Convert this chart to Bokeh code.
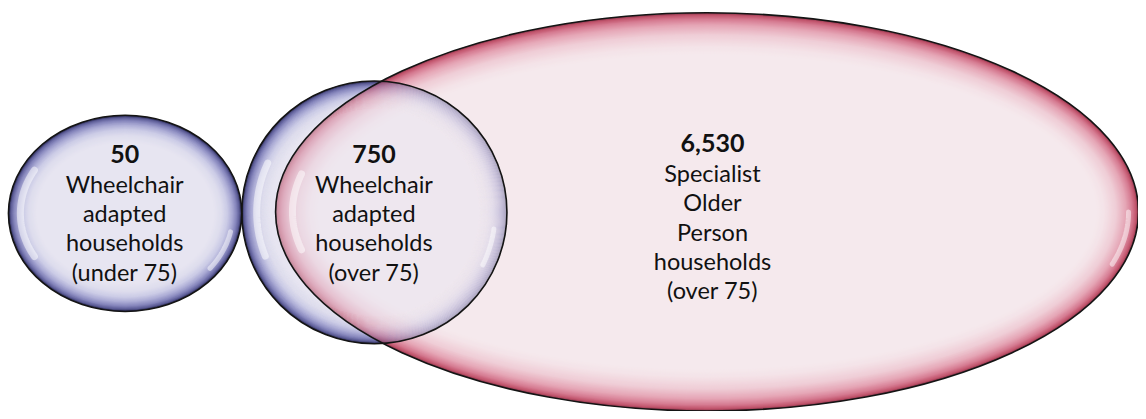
import numpy as np
from bokeh.plotting import figure
from bokeh.models import Range1d, ColumnDataSource
from bokeh.embed import file_html
from bokeh.resources import INLINE
from bokeh.core.properties import value

# ---------------- data ----------------
count_labels = ["50", "750", "6,530"]
descriptions = [
    ["Wheelchair", "adapted", "households", "(under 75)"],
    ["Wheelchair", "adapted", "households", "(over 75)"],
    ["Specialist", "Older", "Person", "households", "(over 75)"],
]

# ---------------- layout (pixel coords, y down) ----------------
shape_cx = [125.5, 376.5, 711.5]
shape_cy = [217.0, 216.0, 215.5]
shape_w = [235.0, 267.0, 869.0]
shape_h = [200.0, 268.0, 406.0]
label_x = [125.0, 376.0, 717.0]
number_y = [156.0, 156.0, 145.0]
first_gap = 31.0
line_gap = 29.8

# bevel colour stops: (distance from edge in px, colour)
blue_stops = [(0, "#2c2c56"), (2, "#5e5e98"), (5, "#8686bc"), (9, "#aaaad4"),
              (14, "#cbcbe6"), (20, "#dedded"), (28, "#e7e5f1")]
red_stops = [(0, "#963a50"), (2, "#c2566e"), (6, "#d67c92"), (12, "#e5a5b5"),
             (22, "#efcdd6"), (34, "#f4e3e8"), (42, "#f5e9ed")]

# gloss highlights: (shape, start deg, end deg, inset px, width)
gloss = [(0, 150, 210, 12, 7), (0, 12, 38, 9, 5),
         (1, 158, 205, 15, 7), (1, 8, 26, 12, 5),
         (2, 0, 16, 10, 5), (2, 168, 192, 17, 7)]


def hex2rgb(h):
    return np.array([int(h[i:i + 2], 16) for i in (1, 3, 5)], float)


def ramp(stops, d):
    ds = [s[0] for s in stops]
    cs = np.array([hex2rgb(s[1]) for s in stops])
    rgb = [int(round(np.interp(d, ds, cs[:, k]))) for k in range(3)]
    return "#%02x%02x%02x" % tuple(rgb)


def ring_source(i, stops):
    depth = stops[-1][0]
    ds = np.arange(0, depth + 1, 1.0)
    return ColumnDataSource(dict(
        x=[shape_cx[i]] * len(ds), y=[shape_cy[i]] * len(ds),
        w=[shape_w[i] - 2 * d for d in ds], h=[shape_h[i] - 2 * d for d in ds],
        c=[ramp(stops, d) for d in ds]))


def ellipse_pts(i, d, n=200):
    t = np.linspace(0, 2 * np.pi, n, endpoint=False)
    a = shape_w[i] / 2 - d
    b = shape_h[i] / 2 - d
    return list(shape_cx[i] + a * np.cos(t)), list(shape_cy[i] + b * np.sin(t))


p = figure(width=1138, height=411, output_backend="svg", toolbar_location=None,
           x_range=Range1d(0, 1146), y_range=Range1d(419, 0),
           min_border=0, outline_line_color=None)
p.axis.visible = False
p.grid.visible = False
p.background_fill_color = "white"
p.border_fill_color = "white"

# opaque bevelled shapes
for i, stops in [(0, blue_stops), (1, blue_stops), (2, red_stops)]:
    src = ring_source(i, stops)
    p.ellipse(x="x", y="y", width="w", height="h", source=src,
              fill_color="c", line_color=None)

# translucent overlay of the middle circle (so it shows over the red ellipse)
depth = blue_stops[-1][0]
xs, ys, cols = [], [], []
for d in np.arange(0, depth, 1.0):
    ox, oy = ellipse_pts(1, d)
    ix, iy = ellipse_pts(1, d + 1)
    xs.append([[ox, ix]])
    ys.append([[oy, iy]])
    cols.append(ramp(blue_stops, d + 0.5))
cx_, cy_ = ellipse_pts(1, depth)
xs.append([[cx_]])
ys.append([[cy_]])
cols.append(ramp(blue_stops, depth))
p.multi_polygons(xs=xs, ys=ys, fill_color=cols, fill_alpha=0.45, line_color=None)

# gloss highlights
gx, gy = [], []
for (i, t0, t1, inset, lw) in gloss:
    t = np.radians(np.linspace(t0, t1, 40))
    a = shape_w[i] / 2 - inset
    b = shape_h[i] / 2 - inset
    gx.append(list(shape_cx[i] + a * np.cos(t)))
    gy.append(list(shape_cy[i] + b * np.sin(t)))
p.multi_line(xs=gx, ys=gy, line_color="white", line_alpha=0.5,
             line_width=[g[4] for g in gloss], line_cap="round")

# outlines
p.ellipse(x=shape_cx, y=shape_cy, width=shape_w, height=shape_h,
          fill_color=None, line_color="#141414", line_width=1.6)

# labels
p.text(x=label_x, y=number_y, text=count_labels, text_font=value("Lato"),
       text_font_size="25px", text_font_style="bold", text_color="#111111",
       text_align="center", text_baseline="middle")
tx, ty, tt = [], [], []
for i, lines in enumerate(descriptions):
    for k, line in enumerate(lines):
        tx.append(label_x[i])
        ty.append(number_y[i] + first_gap + k * line_gap)
        tt.append(line)
p.text(x=tx, y=ty, text=tt, text_font=value("Lato"), text_font_size="23.5px",
       text_color="#111111", text_align="center", text_baseline="middle")

open("out.html", "w").write(file_html(p, INLINE))
